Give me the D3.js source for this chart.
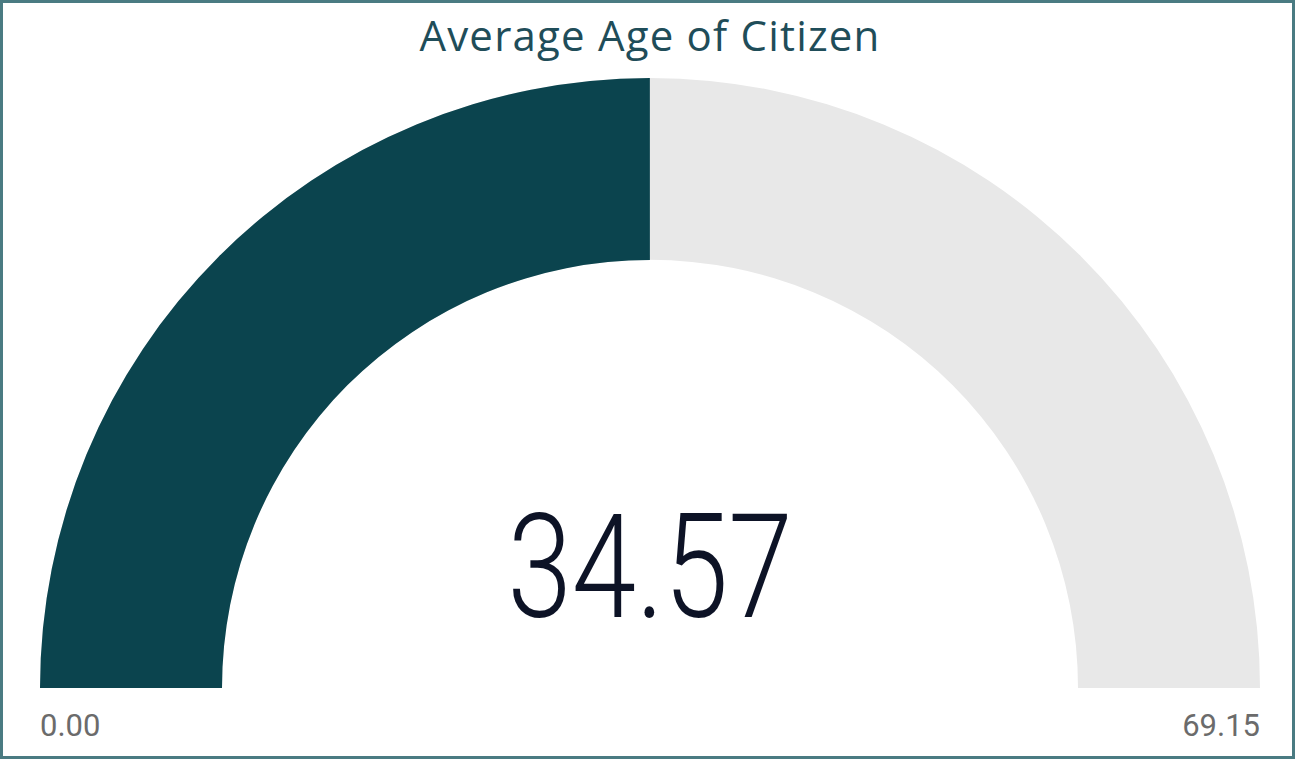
<!DOCTYPE html>
<html>
<head>
<meta charset="utf-8">
<script src="https://cdn.jsdelivr.net/npm/d3@7"></script>
<style>
  body { margin: 0; background: #fff; }
  svg { display: block; }
</style>
</head>
<body>
<div id="chart"></div>
<script>
// gauge data
var title = "Average Age of Citizen";
var gaugeRange = [0, 69.15];
var gaugeValue = [34.57];
var rangeLabels = ["0.00", "69.15"];

var width = 1295, height = 759;
var cx = 650, cy = 688,
    outerR = 610, innerR = 428;

var svg = d3.select("#chart").append("svg")
    .attr("width", width)
    .attr("height", height);

// frame
svg.append("rect")
    .attr("x", 1.5).attr("y", 1.5)
    .attr("width", width - 3).attr("height", height - 3)
    .attr("fill", "#fff")
    .attr("stroke", "#4a7b82")
    .attr("stroke-width", 3);

// title
svg.append("text")
    .attr("x", cx).attr("y", 51)
    .attr("text-anchor", "middle")
    .attr("font-family", "'Open Sans', sans-serif")
    .attr("font-size", 42)
    .attr("letter-spacing", 1.2)
    .attr("fill", "#1f4d59")
    .text(title);

var angle = d3.scaleLinear().domain(gaugeRange).range([-Math.PI / 2, Math.PI / 2]);

var arc = d3.arc().innerRadius(innerR).outerRadius(outerR);

var g = svg.append("g").attr("transform", "translate(" + cx + "," + cy + ")");

// background track
g.append("path")
    .attr("d", arc({startAngle: angle(gaugeRange[0]), endAngle: angle(gaugeRange[1])}))
    .attr("fill", "#e8e8e8");

// value
g.selectAll("path.value")
    .data(gaugeValue)
    .enter().append("path")
    .attr("class", "value")
    .attr("d", function(d) { return arc({startAngle: angle(gaugeRange[0]), endAngle: angle(d)}); })
    .attr("fill", "#0b444e");

// big number
g.append("text")
    .attr("x", 0).attr("y", -71)
    .attr("text-anchor", "middle")
    .attr("font-family", "Roboto, sans-serif")
    .attr("font-weight", 300)
    .attr("font-size", 145)
    .attr("fill", "#0d1326")
    .attr("transform", "scale(0.8,1)")
    .text(d3.format(".2f")(gaugeValue[0]));

// min / max labels
svg.append("text")
    .attr("x", cx - outerR).attr("y", 736)
    .attr("text-anchor", "start")
    .attr("font-family", "'Roboto', sans-serif")
    .attr("font-size", 31)
    .attr("fill", "#6b6b6b")
    .text(rangeLabels[0]);

svg.append("text")
    .attr("x", cx + outerR).attr("y", 736)
    .attr("text-anchor", "end")
    .attr("font-family", "'Roboto', sans-serif")
    .attr("font-size", 31)
    .attr("fill", "#6b6b6b")
    .text(rangeLabels[1]);
</script>
</body>
</html>
